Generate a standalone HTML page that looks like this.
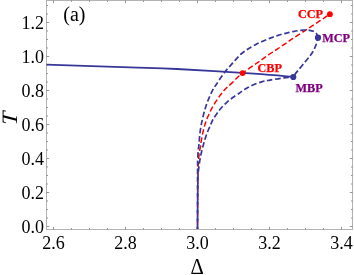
<!DOCTYPE html>
<html><head><meta charset="utf-8"><style>
html,body{margin:0;padding:0;background:#fff;}
body{width:354px;height:275px;position:relative;overflow:hidden;will-change:transform;font-family:"Liberation Serif",serif;color:#000;}
.t{position:absolute;left:0;top:0;line-height:20px;white-space:nowrap;transform-origin:0 0;}
</style></head><body>
<svg width="354" height="275" viewBox="0 0 354 275" style="position:absolute;left:0;top:0">
<rect x="46.5" y="0.5" width="306.0" height="229.0" fill="none" stroke="#b2b2b2" stroke-width="1"/>
<path d="M53.50,229.5 v-2.7 M53.50,0.5 v2.7 M71.50,229.5 v-1.5 M71.50,0.5 v1.5 M89.50,229.5 v-1.5 M89.50,0.5 v1.5 M107.50,229.5 v-1.5 M107.50,0.5 v1.5 M125.50,229.5 v-2.7 M125.50,0.5 v2.7 M143.50,229.5 v-1.5 M143.50,0.5 v1.5 M161.50,229.5 v-1.5 M161.50,0.5 v1.5 M179.50,229.5 v-1.5 M179.50,0.5 v1.5 M197.50,229.5 v-2.7 M197.50,0.5 v2.7 M215.50,229.5 v-1.5 M215.50,0.5 v1.5 M233.50,229.5 v-1.5 M233.50,0.5 v1.5 M251.50,229.5 v-1.5 M251.50,0.5 v1.5 M269.50,229.5 v-2.7 M269.50,0.5 v2.7 M287.50,229.5 v-1.5 M287.50,0.5 v1.5 M305.50,229.5 v-1.5 M305.50,0.5 v1.5 M323.50,229.5 v-1.5 M323.50,0.5 v1.5 M341.50,229.5 v-2.7 M341.50,0.5 v2.7 M46.5,226.50 h2.7 M352.5,226.50 h-2.7 M46.5,218.00 h1.5 M352.5,218.00 h-1.5 M46.5,209.50 h1.5 M352.5,209.50 h-1.5 M46.5,201.00 h1.5 M352.5,201.00 h-1.5 M46.5,192.50 h2.7 M352.5,192.50 h-2.7 M46.5,184.00 h1.5 M352.5,184.00 h-1.5 M46.5,175.50 h1.5 M352.5,175.50 h-1.5 M46.5,167.00 h1.5 M352.5,167.00 h-1.5 M46.5,158.50 h2.7 M352.5,158.50 h-2.7 M46.5,150.00 h1.5 M352.5,150.00 h-1.5 M46.5,141.50 h1.5 M352.5,141.50 h-1.5 M46.5,133.00 h1.5 M352.5,133.00 h-1.5 M46.5,124.50 h2.7 M352.5,124.50 h-2.7 M46.5,116.00 h1.5 M352.5,116.00 h-1.5 M46.5,107.50 h1.5 M352.5,107.50 h-1.5 M46.5,99.00 h1.5 M352.5,99.00 h-1.5 M46.5,90.50 h2.7 M352.5,90.50 h-2.7 M46.5,82.00 h1.5 M352.5,82.00 h-1.5 M46.5,73.50 h1.5 M352.5,73.50 h-1.5 M46.5,65.00 h1.5 M352.5,65.00 h-1.5 M46.5,56.50 h2.7 M352.5,56.50 h-2.7 M46.5,48.00 h1.5 M352.5,48.00 h-1.5 M46.5,39.50 h1.5 M352.5,39.50 h-1.5 M46.5,31.00 h1.5 M352.5,31.00 h-1.5 M46.5,22.50 h2.7 M352.5,22.50 h-2.7 M46.5,14.00 h1.5 M352.5,14.00 h-1.5 M46.5,5.50 h1.5 M352.5,5.50 h-1.5" fill="none" stroke="#7c7c7c" stroke-width="0.8"/>
<path d="M46.50,64.60 C60.42,65.05 108.25,66.57 130.00,67.30 C151.75,68.03 156.33,67.93 177.00,69.00 C197.67,70.07 234.65,72.38 254.00,73.70 C273.35,75.02 286.58,76.37 293.10,76.90" fill="none" stroke="#37379a" stroke-width="1.85"/>
<path d="M197.50,229.00 C197.58,219.83 197.85,185.17 198.00,174.00 C198.15,162.83 198.17,165.67 198.40,162.00 C198.63,158.33 199.02,154.75 199.40,152.00 C199.78,149.25 200.40,147.27 200.70,145.50 C201.00,143.73 200.87,143.43 201.20,141.40 C201.53,139.37 202.10,136.02 202.70,133.30 C203.30,130.58 204.12,127.43 204.80,125.10 C205.48,122.77 206.05,121.25 206.80,119.30 C207.55,117.35 208.35,115.43 209.30,113.40 C210.25,111.37 211.33,109.18 212.50,107.10 C213.67,105.02 215.03,102.85 216.30,100.90 C217.57,98.95 219.15,96.72 220.10,95.40 C221.05,94.08 221.25,93.93 222.00,93.00 C222.75,92.07 223.75,90.73 224.60,89.80 C225.45,88.87 225.85,88.55 227.10,87.40 C228.35,86.25 230.42,84.50 232.10,82.90 C233.78,81.30 235.45,79.43 237.20,77.80 C238.95,76.17 240.55,74.70 242.60,73.10 C244.65,71.50 247.22,69.80 249.50,68.20 C251.78,66.60 254.32,64.88 256.30,63.50 C258.28,62.12 259.70,61.10 261.40,59.90 C263.10,58.70 264.73,57.53 266.50,56.30 C268.27,55.07 270.20,53.70 272.00,52.50 C273.80,51.30 275.58,50.23 277.30,49.10 C279.02,47.97 280.62,46.85 282.30,45.70 C283.98,44.55 285.70,43.37 287.40,42.20 C289.10,41.03 290.73,39.88 292.50,38.70 C294.27,37.52 295.85,36.50 298.00,35.10 C300.15,33.70 303.53,31.52 305.40,30.30 C307.27,29.08 306.77,29.40 309.20,27.80 C311.63,26.20 316.55,22.97 320.00,20.70 C323.45,18.43 328.25,15.28 329.90,14.20" fill="none" stroke="#ff0000" stroke-width="1.5" stroke-dasharray="5.5,2.7" stroke-dashoffset="3.8"/>
<path d="M197.50,229.00 C197.52,219.83 197.57,185.50 197.60,174.00 C197.63,162.50 197.58,164.00 197.70,160.00 C197.82,156.00 198.08,152.60 198.30,150.00 C198.52,147.40 198.77,146.85 199.00,144.40 C199.23,141.95 199.37,138.35 199.70,135.30 C200.03,132.25 200.50,128.98 201.00,126.10 C201.50,123.22 202.05,120.75 202.70,118.00 C203.35,115.25 204.12,112.27 204.90,109.60 C205.68,106.93 206.45,104.53 207.40,102.00 C208.35,99.47 209.53,96.73 210.60,94.40 C211.67,92.07 212.85,89.67 213.80,88.00 C214.75,86.33 215.15,86.10 216.30,84.40 C217.45,82.70 219.12,80.07 220.70,77.80 C222.28,75.53 224.10,72.92 225.80,70.80 C227.50,68.68 229.20,67.02 230.90,65.10 C232.60,63.18 234.30,61.15 236.00,59.30 C237.70,57.45 239.40,55.52 241.10,54.00 C242.80,52.48 244.50,51.37 246.20,50.20 C247.90,49.03 249.62,47.98 251.30,47.00 C252.98,46.02 254.62,45.17 256.30,44.30 C257.98,43.43 259.60,42.63 261.40,41.80 C263.20,40.97 265.30,40.03 267.10,39.30 C268.90,38.57 270.50,38.02 272.20,37.40 C273.90,36.78 275.62,36.15 277.30,35.60 C278.98,35.05 280.62,34.57 282.30,34.10 C283.98,33.63 285.70,33.20 287.40,32.80 C289.10,32.40 290.73,32.05 292.50,31.70 C294.27,31.35 296.05,30.98 298.00,30.70 C299.95,30.42 302.28,30.07 304.20,30.00 C306.12,29.93 307.95,30.08 309.50,30.30 C311.05,30.52 312.35,30.75 313.50,31.30 C314.65,31.85 315.65,32.53 316.40,33.60 C317.15,34.67 317.73,37.02 318.00,37.70" fill="none" stroke="#37379a" stroke-width="1.7" stroke-dasharray="5.5,2.7" stroke-dashoffset="2.6"/>
<path d="M318.00,37.70 C317.75,38.65 317.22,41.32 316.50,43.40 C315.78,45.48 314.80,48.10 313.70,50.20 C312.60,52.30 311.38,53.98 309.90,56.00 C308.42,58.02 306.83,59.82 304.80,62.30 C302.77,64.78 299.65,68.47 297.70,70.90 C295.75,73.33 293.87,75.90 293.10,76.90" fill="none" stroke="#37379a" stroke-width="1.7" stroke-dasharray="5.5,2.7" stroke-dashoffset="2.0"/>
<path d="M293.10,76.90 C291.30,77.10 286.15,77.57 282.30,78.10 C278.45,78.63 273.33,79.52 270.00,80.10 C266.67,80.68 265.13,80.78 262.30,81.60 C259.47,82.42 255.70,83.83 253.00,85.00 C250.30,86.17 248.10,87.45 246.10,88.60 C244.10,89.75 242.15,91.12 241.00,91.90 C239.85,92.68 240.57,92.37 239.20,93.30 C237.83,94.23 234.92,95.95 232.80,97.50 C230.68,99.05 228.40,100.90 226.50,102.60 C224.60,104.30 222.98,105.90 221.40,107.70 C219.82,109.50 218.37,111.50 217.00,113.40 C215.63,115.30 214.22,117.32 213.20,119.10 C212.18,120.88 211.80,122.08 210.90,124.10 C210.00,126.12 208.73,128.83 207.80,131.20 C206.87,133.57 206.07,135.92 205.30,138.30 C204.53,140.68 203.98,142.55 203.20,145.50 C202.42,148.45 201.33,152.25 200.60,156.00 C199.87,159.75 199.25,164.00 198.80,168.00 C198.35,172.00 198.12,169.83 197.90,180.00 C197.68,190.17 197.57,220.83 197.50,229.00" fill="none" stroke="#37379a" stroke-width="1.7" stroke-dasharray="5.5,2.7" stroke-dashoffset="3.8"/>
<circle cx="329.9" cy="14.2" r="2.9" fill="#ff0000"/>
<circle cx="242.6" cy="73.1" r="2.9" fill="#ff0000"/>
<circle cx="318.0" cy="37.7" r="3.1" fill="#37379a"/>
<circle cx="293.3" cy="77.0" r="3.1" fill="#37379a"/>
</svg>
<div class="t" style="font-size:18px;transform:translate(44.10px,216.75px) translateX(-100%) rotate(0.01deg);">0.0</div>
<div class="t" style="font-size:18px;transform:translate(44.10px,182.75px) translateX(-100%) rotate(0.01deg);">0.2</div>
<div class="t" style="font-size:18px;transform:translate(44.10px,148.75px) translateX(-100%) rotate(0.01deg);">0.4</div>
<div class="t" style="font-size:18px;transform:translate(44.10px,114.75px) translateX(-100%) rotate(0.01deg);">0.6</div>
<div class="t" style="font-size:18px;transform:translate(44.10px,80.75px) translateX(-100%) rotate(0.01deg);">0.8</div>
<div class="t" style="font-size:18px;transform:translate(44.10px,46.75px) translateX(-100%) rotate(0.01deg);">1.0</div>
<div class="t" style="font-size:18px;transform:translate(44.10px,12.75px) translateX(-100%) rotate(0.01deg);">1.2</div>
<div class="t" style="font-size:18px;transform:translate(53.50px,232.90px) translateX(-50%) rotate(0.01deg);">2.6</div>
<div class="t" style="font-size:18px;transform:translate(125.50px,232.90px) translateX(-50%) rotate(0.01deg);">2.8</div>
<div class="t" style="font-size:18px;transform:translate(197.50px,232.90px) translateX(-50%) rotate(0.01deg);">3.0</div>
<div class="t" style="font-size:18px;transform:translate(269.50px,232.90px) translateX(-50%) rotate(0.01deg);">3.2</div>
<div class="t" style="font-size:18px;transform:translate(341.50px,232.90px) translateX(-50%) rotate(0.01deg);">3.4</div>
<div class="t" style="font-size:20px;transform:translate(63.30px,3.60px) rotate(0.01deg);">(a)</div>
<div class="t" style="font-size:22.5px;transform:translate(190.50px,256.50px) rotate(0.01deg) scaleX(0.92);">&#916;</div>
<div class="t" style="font-size:22px;font-style:italic;transform:translate(9.6px,118.4px) translate(-50%,-50%) rotate(-90deg) scaleX(1.08) skewX(-3.5deg);transform-origin:50% 50%;">T</div>
<div class="t" style="font-size:12.2px;font-weight:bold;color:#ff0000;-webkit-text-stroke:0.25px #ff0000;transform:translate(297.90px,4.10px) rotate(0.01deg) scaleX(1.0);">CCP</div>
<div class="t" style="font-size:12.2px;font-weight:bold;color:#800080;-webkit-text-stroke:0.25px #800080;transform:translate(322.30px,28.20px) rotate(0.01deg) scaleX(1.0);">MCP</div>
<div class="t" style="font-size:12.2px;font-weight:bold;color:#ff0000;-webkit-text-stroke:0.25px #ff0000;transform:translate(257.50px,58.00px) rotate(0.01deg) scaleX(1.0);">CBP</div>
<div class="t" style="font-size:12.2px;font-weight:bold;color:#800080;-webkit-text-stroke:0.25px #800080;transform:translate(295.60px,77.70px) rotate(0.01deg) scaleX(1.0);">MBP</div>
</body></html>
